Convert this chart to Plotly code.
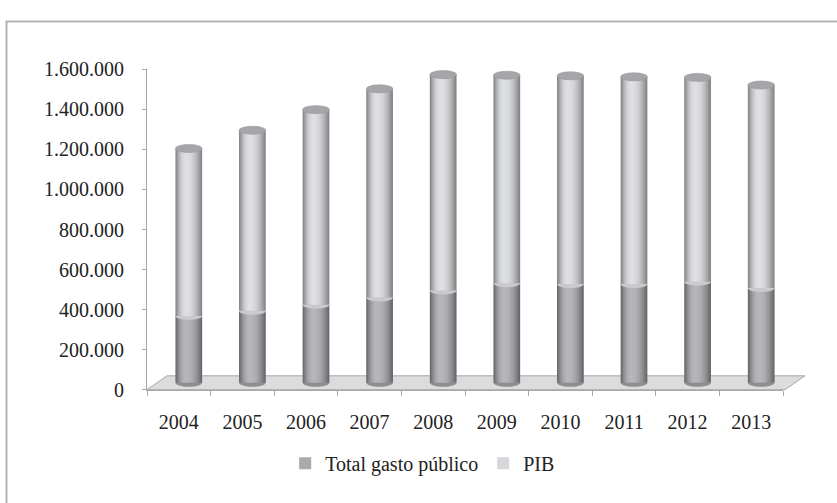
import numpy as np
import plotly.graph_objects as go

# Data (millones de euros)
years = [2004, 2005, 2006, 2007, 2008, 2009, 2010, 2011, 2012, 2013]
gasto_publico = [334000, 359000, 390000, 426000, 461000, 497000, 493000, 493000, 505000, 473000]
pib = [836000, 902000, 974000, 1042000, 1078000, 1039000, 1040000, 1035000, 1020000, 1014000]
y_ticks = [0, 200000, 400000, 600000, 800000, 1000000, 1200000, 1400000, 1600000]
series_names = ["Total gasto público", "PIB"]

W, H = 837, 503
FONT = "Liberation Serif, Times New Roman, serif"
TEXT = "#222222"

# Chart geometry in pixels
AX_LEFT, AX_RIGHT = 147, 783
AX_TOP, AX_BOTTOM = 61, 396
DEPTH_X, DEPTH_Y = 20, 14.5
Y_MAX = 1600000
UNITS_PER_PX = Y_MAX / (AX_BOTTOM - AX_TOP)
BELOW = 100000  # room under zero on the bar axis for the rounded cylinder bottoms

BAR_W = 0.42
HL = 0.40  # highlight position across the cylinder


def px(x, y):
    return x / W, 1 - y / H


def mix(c1, c2, f):
    a = np.array([int(c1[i:i + 2], 16) for i in (1, 3, 5)])
    b = np.array([int(c2[i:i + 2], 16) for i in (1, 3, 5)])
    c = np.round(a + (b - a) * f).astype(int)
    return "#%02x%02x%02x" % tuple(c)


fig = go.Figure()

# invisible anchor trace so the front category axis renders its ticks
fig.add_trace(go.Scatter(x=[str(y) for y in years], y=[0] * len(years), mode="markers",
                         marker=dict(opacity=0), showlegend=False, hoverinfo="skip",
                         xaxis="x", yaxis="y"))


def cylinder(values, base, edge, light, name, legend_color):
    n = 11
    colors = []
    for k in range(n):
        s = k / (n - 1)
        colors.append(mix(edge, light, 1 - (1 - s) ** 2))
    # layer whose colour is closest to the legend swatch carries the legend entry
    target = np.array([int(legend_color[i:i + 2], 16) for i in (1, 3, 5)])
    dists = [np.abs(np.array([int(c[i:i + 2], 16) for i in (1, 3, 5)]) - target).sum() for c in colors]
    leg_k = int(np.argmin(dists))
    for k in range(n):
        t = 0.93 * k / (n - 1)
        left = -BAR_W / 2 + HL * BAR_W * t
        right = BAR_W / 2 - (1 - HL) * BAR_W * t
        fig.add_trace(go.Bar(
            x=years, y=values, base=base,
            width=right - left, offset=left,
            marker=dict(color=colors[k], line=dict(width=0)),
            name=name, legendgroup=name, showlegend=(k == leg_k),
            hoverinfo="skip", xaxis="x2", yaxis="y2"))


cylinder(gasto_publico, [0] * len(years), "#68686c", "#b6b6ba", series_names[0], "#a9a9ad")
cylinder(pib, gasto_publico, "#858589", "#dedfe2", series_names[1], "#d9d9db")

shapes = []

# outer frame (open at the right and bottom edges of the page)
x0, y0 = px(6.5, 11)
shapes.append(dict(type="rect", xref="paper", yref="paper", x0=x0, y0=y0, x1=1.05, y1=-0.05,
                   line=dict(color="#b4b4b4", width=2), layer="below"))

# floor of the 3-D plot area
p1 = px(AX_LEFT, AX_BOTTOM)
p2 = px(AX_RIGHT + 2, AX_BOTTOM)
p3 = px(AX_RIGHT + 2 + DEPTH_X, AX_BOTTOM - DEPTH_Y)
p4 = px(AX_LEFT + DEPTH_X, AX_BOTTOM - DEPTH_Y)
floor_path = "M %f,%f L %f,%f L %f,%f L %f,%f Z" % (p1 + p2 + p3 + p4)
shapes.append(dict(type="path", xref="paper", yref="paper", path=floor_path,
                   fillcolor="#dcdcdc", line=dict(color="#a8a8a8", width=1), layer="below"))

# ellipse geometry in data units
a = BAR_W / 2
b = 4.2 * UNITS_PER_PX


def half_ellipse(xc, yc, color):
    th = np.linspace(0, np.pi, 25)
    xs = xc + a * np.cos(th)
    ys = yc - b * np.sin(th)
    d = "M " + " L ".join("%f,%f" % (xx, yy) for xx, yy in zip(xs, ys)) + " Z"
    return dict(type="path", xref="x2", yref="y2", path=d, fillcolor=color,
                line=dict(width=0), layer="above")


for yr, g, p in zip(years, gasto_publico, pib):
    total = g + p
    # rounded bottom of the cylinder
    shapes.append(half_ellipse(yr, 0, "#8e8e92"))
    # curved seam between the two segments
    shapes.append(half_ellipse(yr, g, "#c9cacd"))
    # cylinder top
    shapes.append(dict(type="circle", xref="x2", yref="y2",
                       x0=yr - a, x1=yr + a, y0=total - b, y1=total + b,
                       fillcolor="#a6a6aa", line=dict(color="#98989c", width=0.6), layer="above"))

xd = [AX_LEFT / W, AX_RIGHT / W]
yd = [1 - AX_BOTTOM / H, 1 - AX_TOP / H]
x2d = [(AX_LEFT + DEPTH_X / 2) / W, (AX_RIGHT + DEPTH_X / 2) / W]
bar_base_px = AX_BOTTOM - DEPTH_Y / 2
y2d = [1 - (bar_base_px + BELOW / UNITS_PER_PX) / H, 1 - (AX_TOP - DEPTH_Y / 2) / H]

fig.update_layout(
    width=W, height=H,
    margin=dict(l=0, r=0, t=0, b=0),
    paper_bgcolor="white", plot_bgcolor="rgba(0,0,0,0)",
    separators=",.",
    barmode="overlay",
    font=dict(family=FONT, size=20, color=TEXT),
    xaxis=dict(domain=xd, type="category", categoryorder="array",
               categoryarray=[str(y) for y in years], range=[-0.5, len(years) - 0.5],
               tickson="boundaries", ticks="outside", ticklen=5, tickcolor="#a8a8a8",
               showline=True, linecolor="#a8a8a8", linewidth=1, showgrid=False, zeroline=False,
               anchor="y", tickfont=dict(family=FONT, size=20, color=TEXT), ticklabelstandoff=14,
               fixedrange=True),
    yaxis=dict(domain=yd, range=[0, Y_MAX], tickvals=y_ticks, tickformat=",d",
               ticks="outside", ticklen=4, tickcolor="#a8a8a8",
               showline=True, linecolor="#a8a8a8", linewidth=1, showgrid=False, zeroline=False,
               anchor="x", tickfont=dict(family=FONT, size=20, color=TEXT), ticklabelstandoff=14,
               fixedrange=True),
    xaxis2=dict(domain=x2d, range=[years[0] - 0.5, years[-1] + 0.5], visible=False,
                anchor="y2", fixedrange=True),
    yaxis2=dict(domain=y2d, range=[-BELOW, Y_MAX], visible=False, anchor="x2", fixedrange=True),
    shapes=shapes,
    legend=dict(orientation="h", x=0.505, xanchor="center", y=1 - 473 / H, yanchor="middle",
                font=dict(family=FONT, size=20, color=TEXT), bgcolor="rgba(0,0,0,0)",
                traceorder="normal", itemclick=False, itemdoubleclick=False),
    showlegend=True,
)

fig.write_html("out.html")
